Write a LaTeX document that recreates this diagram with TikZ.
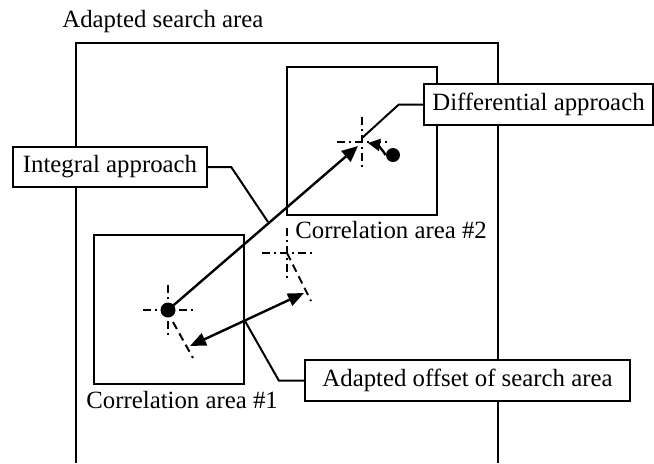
\documentclass[tikz,border=0pt]{standalone}
\usepackage{fontspec}
\setmainfont{Liberation Serif}
\usetikzlibrary{arrows.meta,calc}
\newcommand\diagfont{\fontsize{12.4}{14}\selectfont}
\begin{document}
\begin{tikzpicture}[x=0.5pt,y=-0.5pt,
  frame/.style={line width=1.3pt},
  area/.style={draw,line width=1.3pt,inner sep=0pt},
  box/.style={draw,line width=1.2pt,fill=white,inner sep=0pt,font=\diagfont},
  lbl/.style={font=\diagfont,inner sep=0pt},
  lead/.style={line width=1pt},
  xh/.style={line width=1pt,dash pattern=on 4pt off 2pt on 1pt off 2pt},
  tilt/.style={line width=1pt,dash pattern=on 4pt off 2.5pt},
  arr/.style={line width=1.2pt},
  head/.style={-{Triangle[length=8pt,width=7pt]}},
  bihead/.style={{Triangle[length=8pt,width=6.5pt]}-{Triangle[length=8pt,width=6.5pt]}},
  dot/.style={circle,fill,inner sep=0pt},
  crosshair/.pic={\draw[xh] (-25,0) -- (25,0); \draw[xh] (0,-25) -- (0,25);}
]
\useasboundingbox (0,0) rectangle (654,463);

% search area, open at the bottom
\draw[frame] (76,463) -- (76,43) -- (498,43) -- (498,463);
\node[lbl,anchor=west] (tarea) at (62,22) {Adapted search area};

% correlation areas
\node[area,minimum width=75pt,minimum height=74.5pt] (c1) at (169,309.5) {};
\node[area,minimum width=75pt,minimum height=74pt] (c2) at (362,141) {};
\node[lbl,anchor=west] (tc1) at (86,400) {Correlation area \#1};
\node[lbl,anchor=west] (tc2) at (295,230) {Correlation area \#2};

% label boxes
\node[box,minimum width=97pt,minimum height=20pt] (ib) at (110,167) {Integral approach};
\node[box,minimum width=114.5pt,minimum height=20.5pt] (db) at (538.5,104.5) {Differential approach};
\node[box,minimum width=162.5pt,minimum height=20.5pt] (ob) at (467.5,380.5) {Adapted offset of search area};

% reference points
\coordinate (x1) at (168,310);
\coordinate (x2) at (287,253);
\coordinate (x3) at (362,142);
\coordinate (t1a) at (173,322);
\coordinate (t1b) at (193,358);
\coordinate (t2b) at (311,301);
\coordinate (ia) at (358,146);
\coordinate (a1) at (190,346);
\coordinate (a2) at (304,293);
\coordinate (ij) at (268,222);
\coordinate (oj) at (245,321);
\coordinate (dh) at (368,143);
\coordinate (dj) at (362,138);

% crosshairs and rotated axes
\pic at (x1) {crosshair};
\pic at (x2) {crosshair};
\pic at (x3) {crosshair};
\draw[tilt] (t1a) -- (t1b);
\draw[tilt] (x2) -- (t2b);

% dots
\node[dot,minimum size=7.5pt] (d1) at (x1) {};
\node[dot,minimum size=7pt] (d2) at (393,155) {};

% arrows
\draw[arr,head] (d1.center) -- (ia);
\draw[arr,bihead] (a1) -- (a2);
\draw[arr,-{Triangle[length=6pt,width=6pt]}] (d2.west) to[bend right=25] (dh);

% leader lines
\draw[lead] (ib.east) -- ++(23,0) -- (ij);
\draw[lead] (db.west) -- ++(-24,0) -- (dj);
\draw[lead] (ob.west) -- ++(-25,0) -- (oj);
\end{tikzpicture}
\end{document}
